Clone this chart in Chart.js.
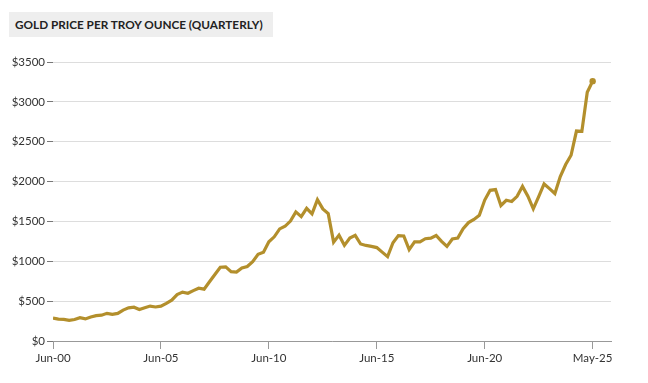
<!DOCTYPE html>
<html>
<head>
<meta charset="utf-8">
<script src="https://cdn.jsdelivr.net/npm/chart.js@4.4.1/dist/chart.umd.min.js"></script>
<style>
  html, body { margin: 0; padding: 0; background: #fff; }
  #wrap { position: relative; width: 648px; height: 383px; overflow: hidden; }
  #title {
    position: absolute; left: 9px; top: 12px; width: 264px; height: 25px;
    background: #eeeeee; color: #222;
    font: 700 11.75px Lato, "Open Sans", sans-serif;
    line-height: 25px; padding-left: 6px; box-sizing: border-box; white-space: nowrap;
  }
  #chartBox { position: absolute; left: 0; top: 0; width: 648px; height: 383px; }
</style>
</head>
<body>
<div id="wrap">
  <canvas id="chartBox" width="648" height="383"></canvas>
  <div id="title">GOLD PRICE PER TROY OUNCE (QUARTERLY)</div>
</div>
<script>
// quarterly gold price, Jun-00 .. Mar-25 plus May-25 (USD per troy ounce)
const prices = [
  288, 274, 272, 258, 270, 293, 277, 302, 318, 324,
  347, 334, 346, 388, 416, 424, 395, 416, 438, 427,
  437, 473, 513, 582, 613, 599, 632, 662, 650, 743,
  834, 925, 930, 870, 865, 917, 935, 996, 1088, 1113,
  1244, 1307, 1406, 1439, 1505, 1620, 1560, 1665, 1595, 1772,
  1657, 1598, 1240, 1328, 1200, 1291, 1325, 1217, 1199, 1187,
  1172, 1115, 1058, 1233, 1322, 1318, 1146, 1245, 1243, 1283,
  1291, 1324, 1250, 1187, 1279, 1292, 1409, 1485, 1525, 1577,
  1768, 1890, 1900, 1700, 1765, 1750, 1815, 1940, 1817, 1658,
  1812, 1970, 1912, 1850, 2062, 2214, 2330, 2634, 2630, 3120,
  3260
];

const xTickIndex = [0, 20, 40, 60, 80, 100];
const xTickLabels = ['Jun-00', 'Jun-05', 'Jun-10', 'Jun-15', 'Jun-20', 'May-25'];
const yTicks = [0, 500, 1000, 1500, 2000, 2500, 3000, 3500];

const gold = '#b38f2c';
const tickFont = { family: 'Lato, "Open Sans", sans-serif', size: 11.5 };

const ctx = document.getElementById('chartBox').getContext('2d');
new Chart(ctx, {
  type: 'line',
  data: {
    datasets: [{
      data: prices.map((v, i) => ({ x: i, y: v })),
      borderColor: gold,
      backgroundColor: gold,
      borderWidth: 3.2,
      tension: 0,
      pointRadius: prices.map((v, i) => i === prices.length - 1 ? 3.2 : 0),
      pointBorderWidth: 0,
      fill: false,
    }],
  },
  options: {
    responsive: false,
    animation: false,
    layout: { padding: { top: 62, right: 37, left: 0, bottom: 0 } },
    plugins: { legend: { display: false }, tooltip: { enabled: false } },
    scales: {
      x: {
        type: 'linear',
        min: 0,
        max: 103.4,
        afterBuildTicks: scale => { scale.ticks = xTickIndex.map(v => ({ value: v })); },
        afterFit: scale => { scale.height = 42; },
        grid: { drawOnChartArea: false, tickLength: 8, tickColor: '#999' },
        border: { display: true, color: '#999' },
        ticks: {
          autoSkip: false,
          maxRotation: 0,
          padding: 2,
          color: '#333',
          font: tickFont,
          callback: v => xTickLabels[xTickIndex.indexOf(v)],
        },
      },
      y: {
        min: 0,
        max: 3500,
        afterBuildTicks: scale => { scale.ticks = yTicks.map(v => ({ value: v })); },
        afterFit: scale => { scale.width = 53; },
        grid: { color: '#dddddd', lineWidth: 1, tickLength: 6, tickColor: '#777' },
        border: { display: false },
        ticks: {
          padding: 2,
          color: '#333',
          font: tickFont,
          callback: v => '$' + v,
        },
      },
    },
  },
});
</script>
</body>
</html>
